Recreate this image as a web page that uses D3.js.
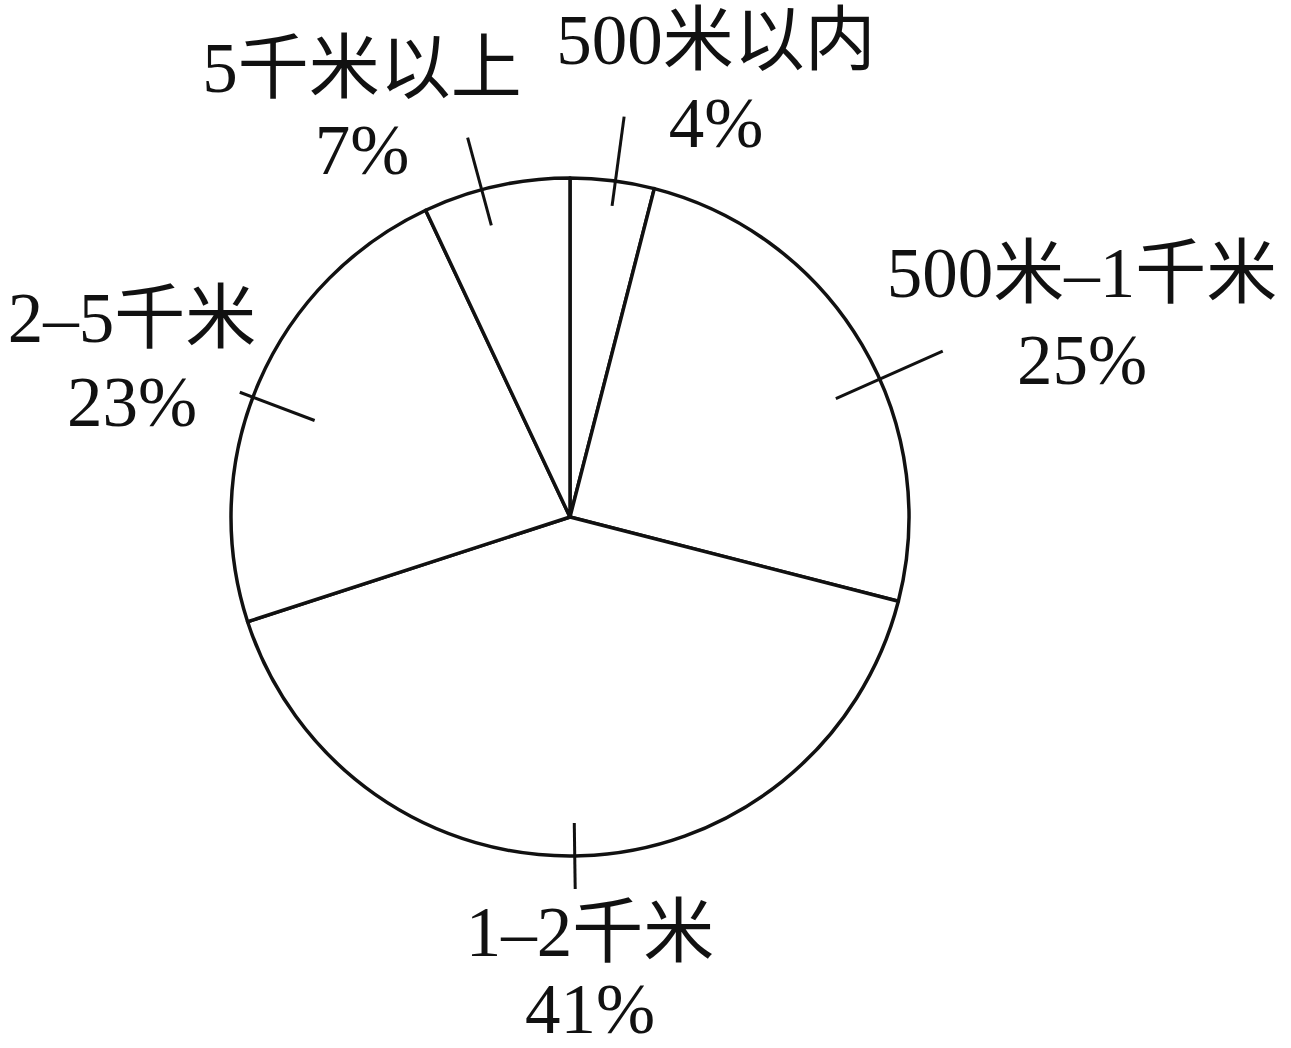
<!DOCTYPE html>
<html>
<head>
<meta charset="utf-8">
<script src="https://cdn.jsdelivr.net/npm/d3@7"></script>
<style>
  html, body { margin: 0; padding: 0; background: #fff; }
  svg { display: block; }
</style>
</head>
<body>
<svg id="chart" width="1291" height="1048"></svg>
<script>
// ---- data ----
const categories = ["500米以内", "500米–1千米", "1–2千米", "2–5千米", "5千米以上"];
const values = [4, 25, 41, 23, 7];
const percentLabels = ["4%", "25%", "41%", "23%", "7%"];

// ---- layout (positions/styles, not data) ----
const cx = 570, cy = 517, R = 339;
const fontSize = 71;
// label anchor positions: [center x, baseline y of name, baseline y of percent]
const labelPos = [
  [716, 64, 147],
  [1082, 297, 384],
  [590, 956, 1033],
  [132, 342, 426],
  [362, 92, 174]
];
// leader lines: angle offset (deg) from slice mid-angle, inner radius, outer radius
const leaderSpec = [
  [0.5, 314, 404],
  [6.6, 291, 408],
  [1.0, 306, 372],
  [-2.7, 273, 353],
  [-2.5, 302, 393]
];

const svg = d3.select("#chart");
const g = svg.append("g").attr("transform", `translate(${cx},${cy})`);

const pie = d3.pie().sort(null).value(d => d)
  .startAngle(0).endAngle(2 * Math.PI);
const arcs = pie(values);
const arc = d3.arc().innerRadius(0).outerRadius(R);

g.selectAll("path.slice")
  .data(arcs)
  .join("path")
  .attr("class", "slice")
  .attr("d", arc)
  .attr("fill", "#fff")
  .attr("stroke", "#111")
  .attr("stroke-width", 3.5)
  .attr("stroke-linejoin", "round");

// leader lines
g.selectAll("line.leader")
  .data(arcs)
  .join("line")
  .attr("class", "leader")
  .each(function(d, i) {
    const mid = (d.startAngle + d.endAngle) / 2 + leaderSpec[i][0] * Math.PI / 180;
    const r0 = leaderSpec[i][1], r1 = leaderSpec[i][2];
    d3.select(this)
      .attr("x1", r0 * Math.sin(mid)).attr("y1", -r0 * Math.cos(mid))
      .attr("x2", r1 * Math.sin(mid)).attr("y2", -r1 * Math.cos(mid));
  })
  .attr("stroke", "#111")
  .attr("stroke-width", 3);

// labels
const fam = "'Liberation Serif', 'Times New Roman', 'Noto Sans CJK SC', serif";
const lbl = svg.append("g")
  .attr("font-family", fam)
  .attr("font-size", fontSize)
  .attr("fill", "#111")
  .attr("text-anchor", "middle");

categories.forEach((c, i) => {
  lbl.append("text")
    .attr("x", labelPos[i][0])
    .attr("y", labelPos[i][1])
    .text(c);
  lbl.append("text")
    .attr("x", labelPos[i][0])
    .attr("y", labelPos[i][2])
    .text(percentLabels[i]);
});
</script>
</body>
</html>
